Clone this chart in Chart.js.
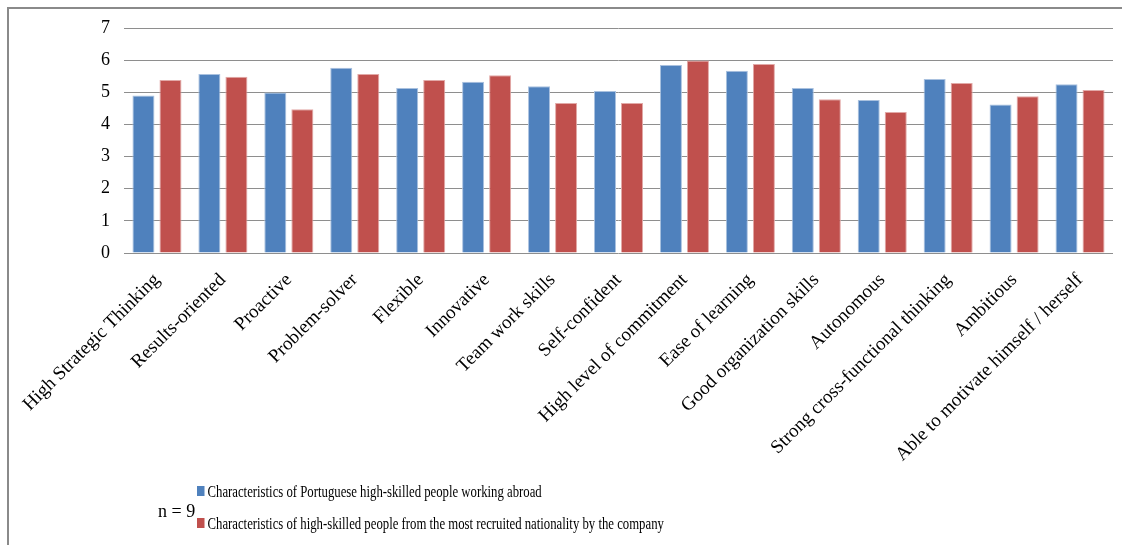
<!DOCTYPE html>
<html>
<head>
<meta charset="utf-8">
<script src="https://cdn.jsdelivr.net/npm/chart.js@4/dist/chart.umd.min.js"></script>
<style>
  html, body { margin: 0; padding: 0; background: #fff; }
  #wrap { position: relative; width: 1122px; height: 545px; overflow: hidden; }
  #frame { position: absolute; left: 7px; top: 7px; width: 1200px; height: 600px;
           border-left: 2px solid #8a8a8a; border-top: 2px solid #8a8a8a; pointer-events: none; }
  canvas { position: absolute; left: 0; top: 0; }
  #legend { position: absolute; left: 197px; top: 480px; font-family: "Liberation Serif", "Times New Roman", serif;
            font-size: 17px; color: #000; transform: scaleX(0.75); transform-origin: left top; white-space: nowrap; }
  .item { height: 32px; line-height: 24px; }
  .sw { display: inline-block; width: 10px; height: 10px; margin-right: 4px; vertical-align: 1px; }
  #n { position: absolute; left: 158px; top: 501px; font-family: "Liberation Serif", "Times New Roman", serif;
       font-size: 18px; color: #000; }
</style>
</head>
<body>
<div id="wrap">
  <canvas id="c" width="1122" height="545"></canvas>
  <div id="frame"></div>
  <div id="n">n = 9</div>
  <div id="legend"></div>
</div>
<script>
const categories = [
  "High Strategic Thinking", "Results-oriented", "Proactive", "Problem-solver", "Flexible",
  "Innovative", "Team work skills", "Self-confident", "High level of commitment", "Ease of learning",
  "Good organization skills", "Autonomous", "Strong cross-functional thinking", "Ambitious",
  "Able to motivate himself / herself"
];
const portugueseValues = [4.90, 5.57, 4.99, 5.76, 5.13, 5.33, 5.19, 5.04, 5.85, 5.67, 5.13, 4.76, 5.41, 4.62, 5.25];
const recruitedValues  = [5.38, 5.48, 4.47, 5.57, 5.38, 5.53, 4.67, 4.67, 5.99, 5.88, 4.78, 4.39, 5.29, 4.88, 5.07];
const seriesNames = [
  "Characteristics of Portuguese high-skilled people working abroad",
  "Characteristics of high-skilled people from the most recruited nationality by the company"
];
const yTicks = [0, 1, 2, 3, 4, 5, 6, 7];

const serif = "'Liberation Serif', 'Times New Roman', serif";

const chart = new Chart(document.getElementById('c'), {
  type: 'bar',
  data: {
    labels: categories,
    datasets: [
      { label: seriesNames[0], data: portugueseValues, backgroundColor: '#4F81BD',
        borderColor: '#a9c1df', borderWidth: 1, borderSkipped: 'bottom',
        categoryPercentage: 0.82, barPercentage: 0.815 },
      { label: seriesNames[1], data: recruitedValues, backgroundColor: '#C0504D',
        borderColor: '#e2a9a7', borderWidth: 1, borderSkipped: 'bottom',
        categoryPercentage: 0.82, barPercentage: 0.815 }
    ]
  },
  options: {
    responsive: false,
    animation: false,
    devicePixelRatio: 1,
    layout: { padding: { top: 28, right: 9, bottom: 0, left: 0 } },
    plugins: { legend: { display: false }, tooltip: { enabled: false } },
    scales: {
      x: {
        grid: { display: false },
        border: { display: false },
        ticks: { color: '#000', font: { family: serif, size: 19 }, minRotation: 45, maxRotation: 45,
                 autoSkip: false, padding: 8 },
        afterFit: (s) => { s.height = 292; }
      },
      y: {
        min: 0, max: 7,
        afterBuildTicks: (s) => { s.ticks = yTicks.map(v => ({ value: v })); },
        grid: { color: '#8e8e8e', lineWidth: 1, drawTicks: false },
        border: { display: false },
        ticks: { color: '#000', font: { family: serif, size: 18 }, padding: 14 },
        afterFit: (s) => { s.width = 124; }
      }
    }
  }
});

const leg = document.getElementById('legend');
chart.data.datasets.forEach(ds => {
  const d = document.createElement('div');
  d.className = 'item';
  const sw = document.createElement('span');
  sw.className = 'sw';
  sw.style.background = ds.backgroundColor;
  d.appendChild(sw);
  d.appendChild(document.createTextNode(ds.label));
  leg.appendChild(d);
});
</script>
</body>
</html>
